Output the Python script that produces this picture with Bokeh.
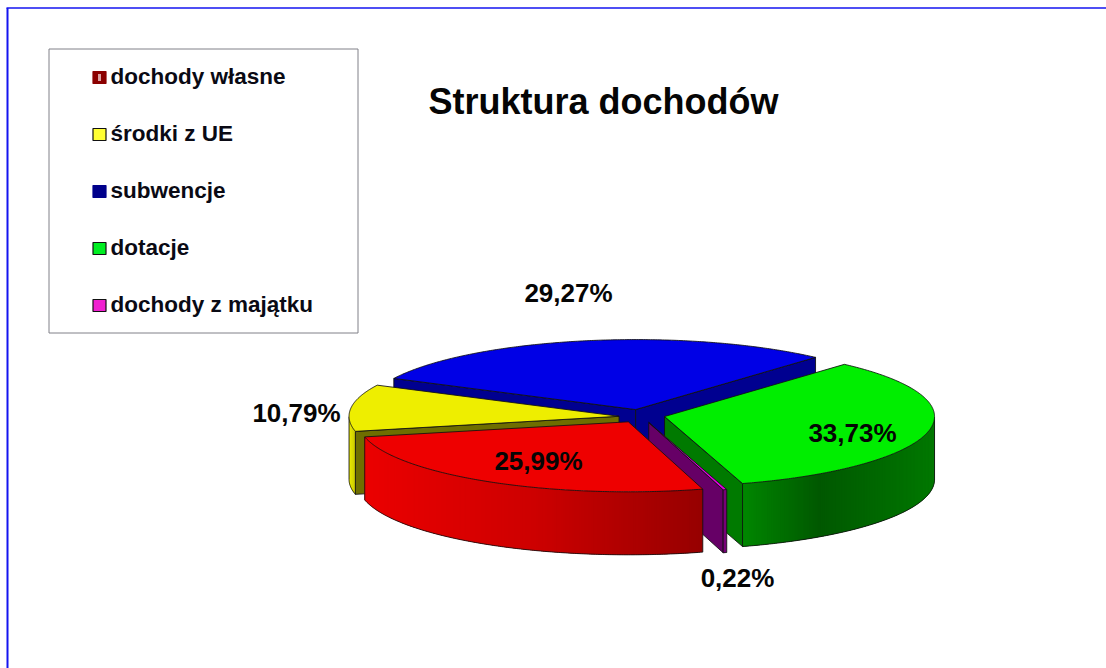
import math
from bokeh.plotting import figure
from bokeh.core.properties import value
from bokeh.embed import file_html
from bokeh.resources import INLINE

# ---- data ----
categories = ["dochody własne", "środki z UE", "subwencje", "dotacje", "dochody z majątku"]
shares = [25.99, 10.79, 29.27, 33.73, 0.22]
title_text = "Struktura dochodów"

# ---- styles ----
top_colors = ["#EE0000", "#EEEE00", "#0000E6", "#00EE00", "#E000E0"]
wall_colors = ["#8A0000", "#6E6E00", "#000090", "#007A00", "#660066"]
rim_stops = [
    [(0.0, (235, 0, 0)), (0.5, (205, 0, 0)), (1.0, (150, 0, 0))],
    [(0.0, (235, 235, 0)), (1.0, (200, 200, 0))],
    [(0.0, (0, 0, 140)), (1.0, (0, 0, 140))],
    [(0.0, (0, 135, 0)), (0.4, (0, 88, 0)), (1.0, (0, 120, 0))],
    [(0.0, (120, 0, 120)), (1.0, (120, 0, 120))],
]
swatch_colors = ["#8B0000", "#FFFF33", "#00008B", "#00EE22", "#F020D0"]
swatch_edges = ["#8B0000", "#111111", "#00008B", "#111111", "#111111"]
label_xy = [(538, 460), (296, 412), (568, 292), (852, 432), (737, 577)]
slice_nudge = [(0, 0), (3, 1), (-1, 0), (-2, -1), (0, 0)]

# ---- layout ----
W, H = 1106, 668
CX, CY, RX, RY, DEPTH, EXPLODE, START = 641, 415.6, 270, 70, 63, 0.095, -74.0
FONT = value("Liberation Sans")

p = figure(width=W, height=H, x_range=(0, W), y_range=(H, 0), output_backend="svg",
           toolbar_location=None, min_border=0, outline_line_color=None,
           margin=(0, 0, 0, 0))
p.xaxis.visible = False
p.yaxis.visible = False
p.grid.visible = False


def pt(ax, ay, t):
    return ax + RX * math.cos(math.radians(t)), ay - RY * math.sin(math.radians(t))


def mix(stops, f):
    for (f0, c0), (f1, c1) in zip(stops, stops[1:]):
        if f <= f1:
            k = (f - f0) / (f1 - f0)
            return "#%02x%02x%02x" % tuple(round(a + (b - a) * k) for a, b in zip(c0, c1))
    return "#%02x%02x%02x" % stops[-1][1]


# angular extents, clockwise from START
spans = []
cur = START
for v in shares:
    nxt = cur - v * 3.6
    spans.append((cur, nxt))
    cur = nxt


def draw_slice(i):
    t0, t1 = spans[i]
    mid = (t0 + t1) / 2
    ax = CX + EXPLODE * RX * math.cos(math.radians(mid)) + slice_nudge[i][0]
    ay = CY - EXPLODE * RY * math.sin(math.radians(mid)) + slice_nudge[i][1]
    edge = dict(line_color="#101010", line_width=1, line_alpha=0.85)

    # radial walls facing the viewer
    for t, normal in ((t0, t0 + 90), (t1, t1 - 90)):
        if math.sin(math.radians(normal)) < 0:
            ex, ey = pt(ax, ay, t)
            p.patch([ax, ex, ex, ax], [ay, ey, ey + DEPTH, ay + DEPTH],
                    fill_color=wall_colors[i], **edge)

    # outer rim, in strips shaded by position; each strip overlaps the next
    n = max(2, int(abs(t0 - t1) / 0.5))
    ts = [t0 + (t1 - t0) * k / n for k in range(n + 1)]
    front = [t for t in ts if math.sin(math.radians(t)) < 0.0]
    if len(front) >= 2:
        pts = [pt(ax, ay, t) for t in front]
        xmin = min(q[0] for q in pts)
        xmax = max(q[0] for q in pts)
        xs, ys, cs = [], [], []
        for k in range(len(pts) - 1):
            x0, y0 = pts[k]
            x1, y1 = pts[min(k + 3, len(pts) - 1)]
            f = ((pts[k][0] + pts[k + 1][0]) / 2 - xmin) / max(xmax - xmin, 1e-6)
            xs.append([x0, x1, x1, x0])
            ys.append([y0, y1, y1 + DEPTH, y0 + DEPTH])
            cs.append(mix(rim_stops[i], f))
        p.patches(xs, ys, fill_color=cs, line_color=None)
        # outline of the rim
        p.line([q[0] for q in pts], [q[1] + DEPTH for q in pts], line_color="#101010",
               line_width=1, line_alpha=0.85)
        for q in (pts[0], pts[-1]):
            p.line([q[0], q[0]], [q[1], q[1] + DEPTH], line_color="#101010", line_width=1, line_alpha=0.85)

    # top face
    arc = [pt(ax, ay, t) for t in ts]
    p.patch([ax] + [q[0] for q in arc], [ay] + [q[1] for q in arc],
            fill_color=top_colors[i], **edge)


# back-to-front: subwencje, środki z UE, dotacje, majątek, własne
for i in (2, 1, 3, 4, 0):
    draw_slice(i)

# frame
p.line([7, 7], [7.5, H], line_color="#1414F0", line_width=2)
p.line([6, W], [7.5, 7.5], line_color="#1414F0", line_width=1.4)

# legend box
p.patch([48.5, 357.5, 357.5, 48.5], [48.5, 48.5, 332.5, 332.5], fill_color="white",
        line_color="#808088", line_width=1)
leg_y = [77 + 57.0 * k for k in range(len(categories))]
p.rect([99] * 5, leg_y, width=13, height=12, fill_color=swatch_colors,
       line_color=swatch_edges, line_width=1.2)
p.rect([99], [leg_y[0]], width=3, height=7, fill_color="#D8A0A0", line_color=None)
p.text([110] * 5, [y - 1 for y in leg_y], text=categories, text_font=FONT, text_font_style="bold",
       text_font_size="22.5px", text_color="#0a0a14", text_align="left", text_baseline="middle")

# title and data labels
p.text([603], [101], text=[title_text], text_font=FONT, text_font_style="bold",
       text_font_size="36px", text_color="#050505", text_align="center", text_baseline="middle")
labels = [("%.2f%%" % v).replace(".", ",") for v in shares]
p.text([q[0] for q in label_xy], [q[1] for q in label_xy], text=labels, text_font=FONT,
       text_font_style="bold", text_font_size="26px", text_color="#050505",
       text_align="center", text_baseline="middle")

open("out.html", "w").write(file_html(p, INLINE))
